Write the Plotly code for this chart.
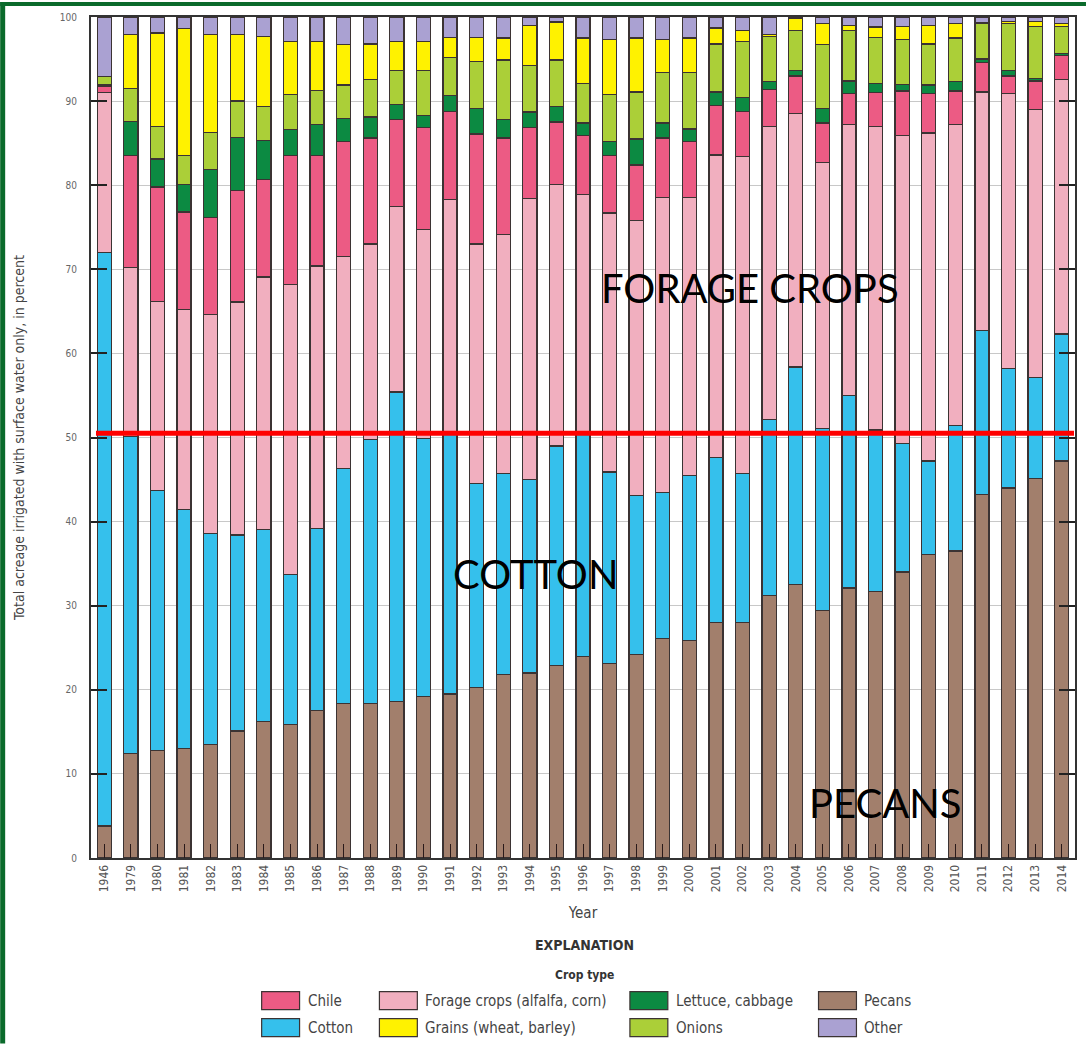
import plotly.graph_objects as go

years = ["1946", "1979", "1980", "1981", "1982", "1983", "1984", "1985", "1986", "1987",
         "1988", "1989", "1990", "1991", "1992", "1993", "1994", "1995", "1996", "1997",
         "1998", "1999", "2000", "2001", "2002", "2003", "2004", "2005", "2006", "2007",
         "2008", "2009", "2010", "2011", "2012", "2013", "2014"]

pecans = [3.8, 12.4, 12.8, 13.0, 13.5, 15.1, 16.2, 15.9, 17.5, 18.4,
          18.4, 18.6, 19.2, 19.5, 20.3, 21.8, 22.0, 22.9, 24.0, 23.1,
          24.2, 26.1, 25.9, 28.0, 28.0, 31.2, 32.5, 29.4, 32.1, 31.7,
          34.0, 36.1, 36.5, 43.2, 44.0, 45.1, 47.2]
cotton = [68.2, 37.7, 30.9, 28.4, 25.1, 23.3, 22.9, 17.8, 21.7, 27.9,
          31.4, 36.8, 30.7, 30.9, 24.2, 23.9, 23.0, 26.1, 26.4, 22.8,
          18.9, 17.4, 19.6, 19.6, 17.7, 20.9, 25.9, 21.7, 22.9, 19.2,
          15.3, 11.1, 14.9, 19.5, 14.2, 12.0, 15.1]
forage = [19.0, 20.1, 22.5, 23.8, 26.0, 27.7, 30.0, 34.5, 31.2, 25.2,
          23.2, 22.1, 24.8, 27.9, 28.5, 28.4, 33.4, 31.1, 28.5, 30.8,
          32.7, 35.0, 33.0, 36.0, 37.7, 34.9, 30.1, 31.6, 32.2, 36.1,
          36.6, 39.0, 35.8, 28.4, 32.7, 31.9, 30.3]
chile = [0.8, 13.3, 13.6, 11.6, 11.6, 13.3, 11.6, 15.3, 13.1, 13.7,
         12.6, 10.3, 12.2, 10.5, 13.1, 11.5, 8.5, 7.4, 7.0, 6.8,
         6.6, 7.1, 6.7, 5.9, 5.4, 4.4, 4.5, 4.7, 3.7, 4.0,
         5.3, 4.7, 4.0, 3.5, 2.1, 3.4, 2.8]
lettuce = [0.1, 4.1, 3.3, 3.3, 5.7, 6.3, 4.6, 3.1, 3.7, 2.7,
           2.5, 1.8, 1.4, 1.9, 3.0, 2.2, 1.8, 1.9, 1.5, 1.7,
           3.1, 1.8, 1.5, 1.6, 1.6, 0.9, 0.6, 1.7, 1.5, 1.1,
           0.8, 1.0, 1.1, 0.4, 0.6, 0.3, 0.3]
onions = [1.0, 3.9, 3.9, 3.4, 4.4, 4.3, 4.1, 4.2, 4.1, 4.0,
          4.5, 4.0, 5.3, 4.5, 5.6, 7.1, 5.5, 5.5, 4.7, 5.6,
          5.6, 6.0, 6.7, 5.7, 6.7, 5.4, 4.8, 7.6, 6.0, 5.5,
          5.3, 4.9, 5.2, 4.2, 5.6, 6.2, 3.2]
grains = [0.0, 6.4, 11.1, 15.1, 11.6, 7.9, 8.3, 6.3, 5.8, 4.8,
          4.2, 3.5, 3.5, 2.4, 2.9, 2.6, 4.8, 4.5, 5.4, 6.5,
          6.4, 3.9, 4.1, 1.9, 1.3, 0.2, 1.4, 2.5, 0.6, 1.2,
          1.6, 2.2, 1.7, 0.1, 0.3, 0.6, 0.3]
other = [7.1, 2.1, 1.9, 1.4, 2.1, 2.1, 2.3, 2.9, 2.9, 3.3,
         3.2, 2.9, 2.9, 2.4, 2.4, 2.5, 1.0, 0.6, 2.5, 2.7,
         2.5, 2.7, 2.5, 1.3, 1.6, 2.1, 0.2, 0.8, 1.0, 1.2,
         1.1, 1.0, 0.8, 0.7, 0.5, 0.5, 0.8]

y_ticks = [0, 10, 20, 30, 40, 50, 60, 70, 80, 90, 100]
reference_level = 50.5

series = [
    ("Pecans", pecans, "#a27f6c"),
    ("Cotton", cotton, "#35c0ec"),
    ("Forage crops (alfalfa, corn)", forage, "#f1afbf"),
    ("Chile", chile, "#ec5b84"),
    ("Lettuce, cabbage", lettuce, "#0c8a42"),
    ("Onions", onions, "#abcf38"),
    ("Grains (wheat, barley)", grains, "#fff200"),
    ("Other", other, "#aaa1d2"),
]
colors = {name: c for name, _, c in series}

W, H = 1088, 1044
L, R, T, B = 91, 11, 15, 186
PW, PH = W - L - R, H - T - B


def px(x):
    return (x - L) / PW


def py(y):
    return (H - B - y) / PH


COND = "DejaVu Sans Condensed, Liberation Sans Narrow, Roboto, sans-serif"

fig = go.Figure()
for name, vals, col in series:
    fig.add_trace(go.Bar(
        x=years, y=vals, name=name,
        marker=dict(color=col, line=dict(color="#3b3333", width=1.3)),
        showlegend=False,
    ))

shapes = []
# reference line
shapes.append(dict(type="line", xref="paper", yref="y", x0=px(96), x1=px(1076),
                   y0=reference_level, y1=reference_level,
                   line=dict(color="#ff0000", width=5), layer="above"))
# green frame
shapes.append(dict(type="rect", xref="paper", yref="paper", x0=px(0), x1=px(5),
                   y0=py(H), y1=py(0), fillcolor="#0a6a2b", line=dict(width=0)))
shapes.append(dict(type="rect", xref="paper", yref="paper", x0=px(0), x1=px(W),
                   y0=py(4), y1=py(0), fillcolor="#0a6a2b", line=dict(width=0)))

annotations = []
# legend (explanation)
legend_items = [
    ("Chile", 262, 1001), ("Cotton", 262, 1028),
    ("Forage crops (alfalfa, corn)", 380, 1001), ("Grains (wheat, barley)", 380, 1028),
    ("Lettuce, cabbage", 631, 1001), ("Onions", 631, 1028),
    ("Pecans", 820, 1001), ("Other", 820, 1028),
]
for name, x0, yc in legend_items:
    shapes.append(dict(type="rect", xref="paper", yref="paper",
                       x0=px(x0), x1=px(x0 + 38), y0=py(yc + 9), y1=py(yc - 9),
                       fillcolor=colors[name], line=dict(color="#3b3333", width=1.2)))
    annotations.append(dict(text=name, xref="paper", yref="paper", x=px(x0 + 44), y=py(yc),
                            xanchor="left", yanchor="middle", showarrow=False,
                            font=dict(family=COND, size=15, color="#444")))

BIG = "Lato, Open Sans, sans-serif"
annotations += [
    dict(text="<b>EXPLANATION</b>", xref="paper", yref="paper", x=px(586), y=py(945),
         xanchor="center", yanchor="middle",
         showarrow=False, font=dict(family=COND, size=14, color="#333")),
    dict(text="<b>Crop type</b>", xref="paper", yref="paper", x=px(586), y=py(975),
         xanchor="center", yanchor="middle",
         showarrow=False, font=dict(family=COND, size=12, color="#333")),
    dict(text="FORAGE CROPS", xref="paper", yref="paper", x=px(751), y=py(287),
         xanchor="center", yanchor="middle",
         showarrow=False, font=dict(family=BIG, size=40, color="#000")),
    dict(text="COTTON", xref="paper", yref="paper", x=px(536), y=py(573),
         xanchor="center", yanchor="middle",
         showarrow=False, font=dict(family=BIG, size=40, color="#000")),
    dict(text="PECANS", xref="paper", yref="paper", x=px(887), y=py(803),
         xanchor="center", yanchor="middle",
         showarrow=False, font=dict(family=BIG, size=40, color="#000")),
]

fig.update_layout(
    width=W, height=H,
    margin=dict(l=L, r=R, t=T, b=B),
    barmode="stack", bargap=0.47,
    plot_bgcolor="white", paper_bgcolor="white",
    shapes=shapes, annotations=annotations,
    font=dict(family=COND, color="#555"),
)
fig.update_xaxes(
    type="category", tickangle=-90,
    ticks="inside", ticklen=14, tickcolor="#2a1a1a", tickwidth=1,
    tickfont=dict(family=COND, size=12, color="#555"),
    showline=True, linecolor="#333", linewidth=2, mirror=True,
    showgrid=False,
    title=dict(text="Year", font=dict(family=COND, size=15, color="#444"), standoff=16),
)
fig.update_yaxes(
    range=[0, 100], tickvals=y_ticks,
    ticks="inside", ticklen=16, tickcolor="#222", tickwidth=1.5,
    tickfont=dict(family=COND, size=10, color="#666"),
    ticklabelstandoff=10,
    showline=True, linecolor="#333", linewidth=2, mirror="ticks",
    showgrid=True, gridcolor="#c8c8c8", gridwidth=1, zeroline=False,
    title=dict(text="Total acreage irrigated with surface water only, in percent",
               font=dict(family=COND, size=14, color="#444"), standoff=32),
)

fig.write_html("out.html", config={"displayModeBar": False},
               post_script="document.body.style.margin='0';document.body.style.padding='0';")
